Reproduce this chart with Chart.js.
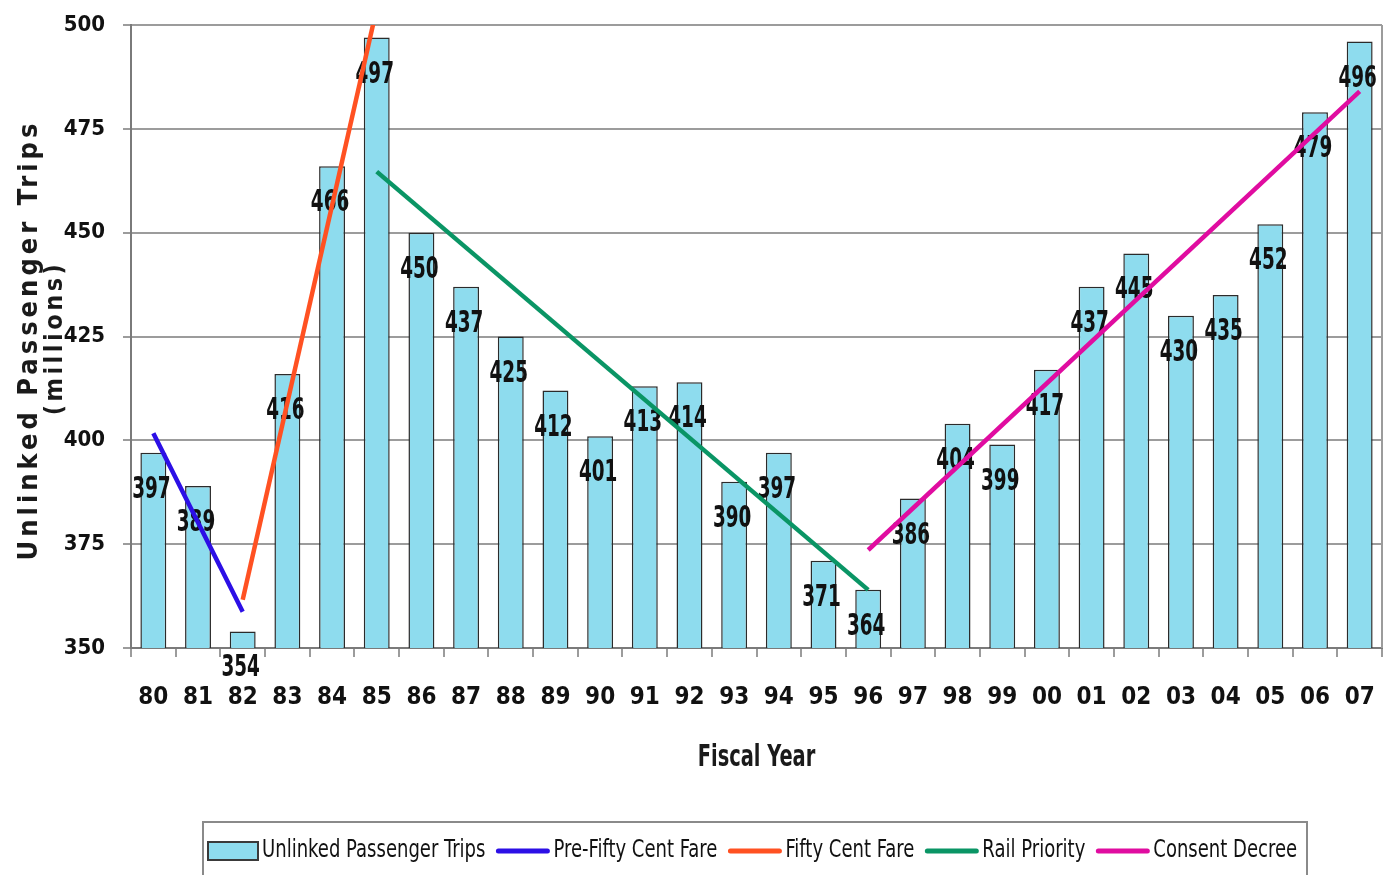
<!DOCTYPE html>
<html>
<head>
<meta charset="utf-8">
<title>Unlinked Passenger Trips by Fiscal Year</title>
<script src="https://cdn.jsdelivr.net/npm/chart.js@4/dist/chart.umd.min.js"></script>
<style>
  html, body { margin: 0; padding: 0; background: #ffffff; }
  #wrap { width: 1392px; height: 875px; position: relative; }
  canvas { display: block; }
</style>
</head>
<body>
<div id="wrap"><canvas id="chart" width="1392" height="875"></canvas></div>
<script>
// Fiscal years (two-digit) and annual ridership in millions
const fiscalYears = ['80','81','82','83','84','85','86','87','88','89','90','91','92','93','94','95','96','97','98','99','00','01','02','03','04','05','06','07'];
const passengerTrips = [397, 389, 354, 416, 466, 497, 450, 437, 425, 412, 401, 413, 414, 390, 397, 371, 364, 386, 404, 399, 417, 437, 445, 430, 435, 452, 479, 496];

// Trend segments for each fare / policy era (start and end year, fitted values)
const preFiftyYears = ['80', '82'];
const preFiftyValues = [401.7, 358.7];
const fiftyCentYears = ['82', '85'];
const fiftyCentValues = [361.6, 504];
const railPriorityYears = ['85', '96'];
const railPriorityValues = [464.7, 364];
const consentDecreeYears = ['96', '07'];
const consentDecreeValues = [373.6, 484];

// Value axis ticks
const yMin = 350;
const yMax = 500;
const yStep = 25;

const NARROW = '"Liberation Sans Narrow", "Arial Narrow", "DejaVu Sans Condensed", sans-serif';

const segment = (years, values) => years.map((x, i) => ({ x: x, y: values[i] }));

const BAR_FILL = '#8edcee';
const BAR_EDGE = '#2b2b2b';
const GRID = '#9c9c9c';

const legendItems = [
  { label: 'Unlinked Passenger Trips', kind: 'bar', color: BAR_FILL },
  { label: 'Pre-Fifty Cent Fare', kind: 'line', color: '#2c0fe6' },
  { label: 'Fifty Cent Fare', kind: 'line', color: '#ff5122' },
  { label: 'Rail Priority', kind: 'line', color: '#0a9565' },
  { label: 'Consent Decree', kind: 'line', color: '#e00ca0' }
];

// draw text squeezed horizontally so it reads as a narrow face
function narrowText(ctx, text, x, y, sx) {
  ctx.save();
  ctx.translate(x, y);
  ctx.scale(sx, 1);
  ctx.fillText(text, 0, 0);
  ctx.restore();
}

// Value labels written inside the top of each bar
const barValueLabels = {
  id: 'barValueLabels',
  afterDatasetDraw(chart, args) {
    if (args.index !== 0) return;
    const ctx = chart.ctx;
    const meta = args.meta;
    ctx.save();
    ctx.fillStyle = '#111111';
    ctx.font = 'bold 31px ' + NARROW;
    ctx.textAlign = 'center';
    ctx.textBaseline = 'middle';
    meta.data.forEach((bar, i) => {
      const v = chart.data.datasets[0].data[i];
      narrowText(ctx, String(v), bar.x - 2, bar.y + 37, 0.66);
    });
    ctx.restore();
  }
};

// Right-hand frame line, axis titles and boxed legend
const chartDecor = {
  id: 'chartDecor',
  afterDraw(chart) {
    const ctx = chart.ctx;
    const area = chart.chartArea;
    ctx.save();

    ctx.strokeStyle = GRID;
    ctx.lineWidth = 2;
    ctx.beginPath();
    ctx.moveTo(area.right, area.top);
    ctx.lineTo(area.right, area.bottom);
    ctx.stroke();

    // vertical axis title, widely letter-spaced
    ctx.fillStyle = '#1a1a1a';
    ctx.textAlign = 'center';
    ctx.textBaseline = 'middle';
    ctx.save();
    ctx.translate(30, 342);
    ctx.rotate(-Math.PI / 2);
    ctx.font = 'bold 27px ' + NARROW;
    ctx.letterSpacing = '4px';
    ctx.fillText('Unlinked Passenger Trips', 2, 0);
    ctx.restore();
    ctx.save();
    ctx.translate(55, 340);
    ctx.rotate(-Math.PI / 2);
    ctx.font = 'bold 25px ' + NARROW;
    ctx.letterSpacing = '3.5px';
    ctx.fillText('(millions)', 2, 0);
    ctx.restore();

    // horizontal axis title
    ctx.font = 'bold 30px ' + NARROW;
    narrowText(ctx, 'Fiscal Year', (area.left + area.right) / 2, 758, 0.72);

    // legend
    const boxL = 203, boxT = 822, boxR = 1307;
    ctx.strokeStyle = '#8a8a8a';
    ctx.lineWidth = 2;
    ctx.strokeRect(boxL, boxT, boxR - boxL, 70);

    const cy = 851;
    const sx = 0.835;
    ctx.font = '24px ' + NARROW;
    ctx.textAlign = 'left';
    ctx.textBaseline = 'middle';
    let x = 208;
    legendItems.forEach(item => {
      if (item.kind === 'bar') {
        ctx.fillStyle = item.color;
        ctx.fillRect(x, cy - 9, 50, 18);
        ctx.strokeStyle = '#3a3a3a';
        ctx.lineWidth = 2;
        ctx.strokeRect(x, cy - 9, 50, 18);
        x += 50;
      } else {
        ctx.strokeStyle = item.color;
        ctx.lineWidth = 5;
        ctx.lineCap = 'round';
        ctx.beginPath();
        ctx.moveTo(x + 3, cy);
        ctx.lineTo(x + 52, cy);
        ctx.stroke();
        x += 54;
      }
      x += 4;
      ctx.fillStyle = '#111111';
      narrowText(ctx, item.label, x, cy, sx);
      x += ctx.measureText(item.label).width * sx + 10;
    });
    ctx.restore();
  }
};

const lineSet = (label, years, values, color) => ({
  type: 'line',
  label: label,
  data: segment(years, values),
  borderColor: color,
  backgroundColor: color,
  borderWidth: 4.5,
  pointRadius: 0,
  pointHoverRadius: 0,
  fill: false,
  tension: 0,
  clip: 0,
  order: 0
});

new Chart(document.getElementById('chart'), {
  data: {
    labels: fiscalYears,
    datasets: [
      {
        type: 'bar',
        label: 'Unlinked Passenger Trips',
        data: passengerTrips,
        backgroundColor: BAR_FILL,
        borderColor: BAR_EDGE,
        borderWidth: 1.5,
        barPercentage: 0.58,
        categoryPercentage: 1.0,
        order: 10
      },
      lineSet('Pre-Fifty Cent Fare', preFiftyYears, preFiftyValues, legendItems[1].color),
      lineSet('Fifty Cent Fare', fiftyCentYears, fiftyCentValues, legendItems[2].color),
      lineSet('Rail Priority', railPriorityYears, railPriorityValues, legendItems[3].color),
      lineSet('Consent Decree', consentDecreeYears, consentDecreeValues, legendItems[4].color)
    ]
  },
  options: {
    responsive: false,
    devicePixelRatio: 1,
    animation: false,
    layout: { padding: { left: 0, right: 10, top: 25, bottom: 60 } },
    plugins: {
      legend: { display: false },
      tooltip: { enabled: false },
      title: { display: false }
    },
    scales: {
      x: {
        type: 'category',
        offset: true,
        grid: {
          offset: true,
          drawOnChartArea: false,
          drawTicks: true,
          tickLength: 9,
          color: GRID,
          lineWidth: 2
        },
        border: { display: true, color: '#7a7a7a', width: 2 },
        ticks: {
          color: '#111111',
          font: { family: NARROW, size: 24, weight: 'bold' },
          padding: 26,
          maxRotation: 0,
          autoSkip: false
        },
        title: { display: false },
        afterFit(scale) {
          scale.height = 167;
          scale.paddingLeft = 0;
          scale.paddingRight = 0;
        }
      },
      y: {
        type: 'linear',
        min: yMin,
        max: yMax,
        grid: {
          color: GRID,
          lineWidth: 2,
          drawTicks: true,
          tickLength: 8
        },
        border: { display: true, color: '#7a7a7a', width: 2 },
        ticks: {
          stepSize: yStep,
          color: '#111111',
          font: { family: NARROW, size: 22, weight: 'bold' },
          padding: 18
        },
        afterFit(scale) {
          scale.width = 131;
          scale.paddingTop = 0;
          scale.paddingBottom = 0;
        }
      }
    }
  },
  plugins: [barValueLabels, chartDecor]
});
</script>
</body>
</html>
